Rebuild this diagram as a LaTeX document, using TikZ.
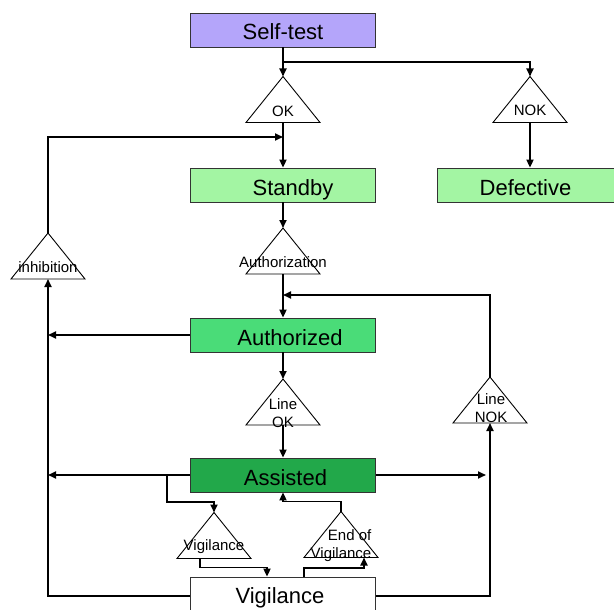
\documentclass[tikz,border=0pt]{standalone}
\usepackage{fontspec}
\setmainfont{Liberation Sans}
\usepackage{tikz}
\usetikzlibrary{arrows.meta,positioning}

\definecolor{testcol}{HTML}{B4A5FA}
\definecolor{idlecol}{HTML}{A3F5A3}
\definecolor{authcol}{HTML}{4ADC78}
\definecolor{assistcol}{HTML}{22A84A}

\tikzset{
  box/.style={draw=black!80, line width=0.8pt, minimum width=185pt,
    minimum height=34pt, inner sep=0pt, text height=23pt, text depth=3pt,
    font=\fontsize{22}{26}\selectfont},
  flow/.style={line width=1.8pt, -{Triangle[length=8pt,width=7pt]}},
  gatetext/.style={inner sep=0pt, align=center, font=\fontsize{15}{18}\selectfont},
  gate/.pic={
    \draw[line width=0.9pt] (0,-23) -- (37,23) -- (-37,23) -- cycle;
    \coordinate (-top) at (0,-23);
    \coordinate (-bot) at (0,23);
  }
}

\begin{document}
\begin{tikzpicture}[x=1pt, y=-1pt]
  \useasboundingbox (0,0) rectangle (614,610);

  % states
  \node[box, fill=testcol] (selftest) at (283,30) {Self-test};
  \node[box, fill=idlecol] (standby) at (283,185) {\hspace*{20pt}Standby};
  \node[box, fill=idlecol, minimum width=177pt] (defective) at (525.5,185) {Defective};
  \node[box, fill=authcol] (authorized) at (283,335) {\hspace*{14pt}Authorized};
  \node[box, fill=assistcol] (assisted) at (283,475) {\hspace*{5pt}Assisted};
  \node[box, fill=white, minimum height=38pt, text height=17pt] (vigilance) at (283,596) {Vigilance\hspace*{6pt}};

  % conditions
  \pic (ok) at (283,99.5) {gate};
  \pic (nok) at (530,99.5) {gate};
  \pic (inhib) at (48,256) {gate};
  \pic (authz) at (283,251) {gate};
  \pic (lineok) at (283,402) {gate};
  \pic (linenok) at (490,400) {gate};
  \pic (vig) at (214,535.5) {gate};
  \pic (endvig) at (341,534.5) {gate};

  % labels
  \node[gatetext] (oklbl) at (283,111) {OK};
  \node[gatetext] (noklbl) at (530,110) {NOK};
  \node[gatetext] (inhiblbl) at (48,267) {inhibition};
  \node[gatetext] (authzlbl) at (283,262) {Authorization};
  \node[gatetext] (lineoklbl) at (283,413) {Line\\OK};
  \node[gatetext] (linenoklbl) at (491,408) {Line\\NOK};
  \node[gatetext] (viglbl) at (214,547) {Vigilance};
  \node[gatetext, align=right] (endviglbl) at (341,546) {End of\\Vigilance};

  % junctions
  \coordinate (split1) at (283,62);
  \coordinate (join1) at (283,137);
  \coordinate (join2) at (283,295);
  \coordinate (split2) at (167,475);

  % transitions
  \draw[flow] (selftest) -- (ok-top);
  \draw[flow] (split1) -| (nok-top);
  \draw[flow] (ok-bot) -- (standby);
  \draw[flow] (nok-bot) -- (nok-bot |- defective.north);
  \draw[flow] (inhib-top) |- (join1);
  \draw[flow] (standby) -- (authz-top);
  \draw[flow] (authz-bot) -- (authorized);
  \draw[flow] (linenok-top) |- (join2);
  \draw[flow] (authorized.west) -- (authorized.west -| inhib-bot);
  \draw[flow] (authorized) -- (lineok-top);
  \draw[flow] (lineok-bot) -- (assisted);
  \draw[flow] (assisted.west) -- (assisted.west -| inhib-bot);
  \draw[flow] (assisted.east) -- ([xshift=-4pt]assisted.east -| linenok-bot);
  \draw[flow] (vigilance.west) -| (inhib-bot);
  \draw[flow] (vigilance.east) -| (linenok-bot);
  \draw[flow] (split2) -- ++(0,27) -| (vig-top);
  \draw[flow] ([xshift=-14pt]vig-bot) -- ++(0,9) -| ([xshift=-16pt]vigilance.north);
  \draw[flow] ([xshift=21pt]vigilance.north) -- ++(0,-9) -| ([xshift=23pt]endvig-bot);
  \draw[flow] (endvig-top) -- ++(0,-10) -| (assisted.south);
\end{tikzpicture}
\end{document}
